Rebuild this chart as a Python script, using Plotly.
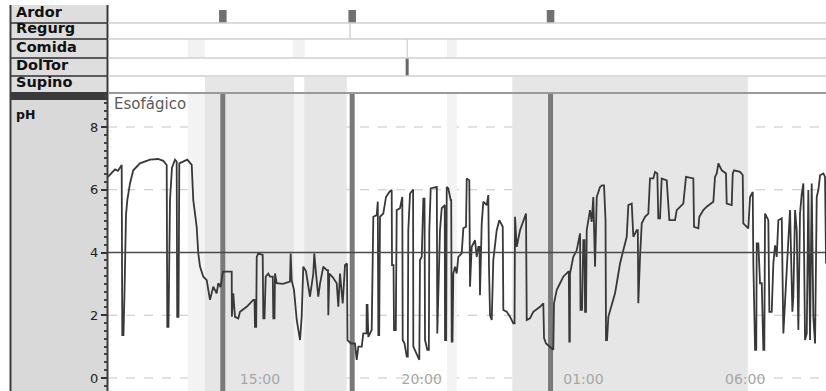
import pandas as pd
import plotly.graph_objects as go

# ---------------- data ----------------
# time in minutes after 10:00 on day 1, pH values
minutes = [
    18, 25.4, 31, 36.5, 43.4, 44.5, 46.7, 48.6, 49.5, 51.4, 53.8, 58.8, 64.9, 77.3, 95.9, 110.7,
    120.6, 126.9, 128.0, 130.2, 133.0, 136.7, 142.3, 145.4, 146.4, 148.8, 150.3, 157.1, 165.1,
    173.3, 176.2, 182.5, 185.5, 188.7, 194.8, 201.1, 203.5, 207.2, 213.3, 219.6, 222.6, 226.7,
    231.3, 247.5, 247.8, 250.4, 253.6, 259.7, 262.9, 275.3, 287.5, 289.8, 290.7, 292.9, 293.9,
    296.8, 305.0, 306.1, 308.3, 310.6, 315.4, 318.5, 323.7, 324.7, 326.9, 327.8, 331.0, 342.6,
    355.6, 356.9, 358.8, 363.1, 368.1, 374.2, 377.3, 380.3, 385.3, 389.6, 392.7, 398.9, 400.7,
    403.9, 408.1, 411.3, 417.4, 423.7, 426.1, 426.7, 428.6, 435.4, 442.3, 445.3, 448.4, 453.4,
    457.7, 461.4, 462.3,
    468.8, 476.2, 479.4, 482.4, 488.7, 491.6, 497.6, 497.9, 499.4, 500.9, 507.2, 508.3, 510.2,
    516.5, 517.6, 518.5, 519.5, 521.1, 522.6, 528.7, 533.7, 539.9, 544.3, 544.9, 547.7, 548.6,
    551.9, 553.6, 559.7, 562.9, 564.0, 564.7, 568.1, 572.2, 574.2, 575.1, 578.3, 583.3, 584.0,
    584.4, 589.4, 595.5, 596.8, 600.0, 603.0, 605.2, 606.1, 610.4, 613.2, 614.1, 616.7, 624.7,
    628.0, 628.9, 630.8, 633.9, 637.1, 641.9, 642.7, 643.2, 645.4, 646.4, 649.3, 653.8, 654.7,
    655.6, 657.1, 658.6, 661.8, 664.9, 667.9, 674.2, 677.2, 682.2, 683.5, 688.3, 689.6, 692.7,
    698.9, 702.0, 705.0, 707.2, 708.1, 711.3, 714.3, 720.6, 723.5, 724.8, 726.7, 729.9, 732.8,
    739.1, 744.0, 750.3, 751.4, 757.7, 763.8, 769.9, 772.2, 773.1, 776.2, 782.4, 788.5, 793.5,
    794.8, 800.9, 807.0, 819.5, 825.6, 826.9, 830.6, 838.0, 844.1, 845.4, 850.4, 856.6, 862.7,
    872.0, 872.9, 873.8, 874.8, 875.1, 881.2, 887.5, 893.7, 894.6, 897.4, 899.8, 902.0, 903.0,
    904.8, 906.1, 912.2, 915.4, 918.3, 921.5, 924.7, 930.8,
    934.5, 938.2, 940.1, 941.0, 941.9, 943.8, 946.2, 952.5, 958.6, 961.8, 967.9, 974.0, 980.3,
    983.3, 989.6, 992.6, 998.9, 1000.9, 1001.8, 1005.0, 1008.2, 1014.3, 1020.4, 1023.5, 1029.7,
    1032.8, 1037.1, 1038.9, 1042.1, 1045.2, 1054.5, 1059.4, 1069.9, 1073.1, 1079.2, 1085.3,
    1090.3, 1103.9, 1105.2, 1113.2, 1115.0, 1122.4, 1128.7, 1136.2, 1141.0, 1144.1, 1147.3,
    1150.3, 1156.6, 1164.5, 1165.8, 1175.1, 1177.0, 1179.4, 1190.5, 1195.5, 1196.6, 1203.0,
    1205.9, 1209.1, 1214.1, 1215.2, 1218.4, 1220.6, 1221.5, 1224.5, 1227.6, 1230.8, 1233.8,
    1235.6, 1236.9, 1243.0, 1244.9, 1249.3, 1252.3, 1255.5, 1258.6, 1261.6, 1267.9, 1270.9,
    1274.0, 1277.2, 1280.1, 1283.3, 1287.6, 1289.4, 1292.6, 1295.7, 1298.7, 1301.8, 1305.0,
    1308.0, 1311.1, 1314.3, 1317.2, 1320.4, 1323.5, 1326.5, 1329.7, 1332.8, 1335.8, 1339.0,
    1345.1, 1348.2, 1350.1,
]
ph = [
    6.41, 6.55, 6.65, 6.6, 6.79, 1.37, 1.37, 2.70, 3.9, 5.2, 5.67, 6.20, 6.62, 6.84, 6.96, 6.98,
    6.92, 6.79, 1.63, 1.63, 5.67, 6.7, 6.96, 6.9, 1.95, 1.95, 6.84, 6.9, 6.96,
    6.79, 5.67, 4.82, 3.97, 3.55, 3.23, 3.12, 2.8, 2.49, 2.91, 2.7, 3.02, 2.9,
    3.39, 3.39, 1.95, 2.70, 1.95, 1.90, 2.11, 2.27, 2.49, 2.49, 1.63, 1.63, 3.86,
    3.97, 3.92, 1.90, 1.90, 3.23, 3.33, 3.23, 3.23, 1.90, 1.90, 3.33, 3.02, 3.0,
    3.07, 3.97, 3.12, 2.8, 1.85, 1.21, 1.95, 3.55, 3.4, 2.91, 2.59, 3.33, 3.97,
    3.33, 2.59, 3.0, 3.55, 3.44, 3.44, 2.0, 3.33, 3.2, 3.02, 2.27, 3.33, 2.38,
    3.60, 3.65, 1.21,
    1.1, 1.1, 0.58, 1.0, 1.0, 1.42, 1.42, 2.33, 2.33, 1.31, 1.53, 3.55, 5.14,
    5.19, 5.62, 5.62, 1.37, 1.37, 5.14, 5.24, 5.77, 5.93, 5.99, 3.60, 3.60, 1.53,
    1.53, 5.35, 5.41, 5.77, 5.77, 1.21, 1.1, 0.68, 0.68, 4.71, 5.88, 5.99, 5.99,
    1.0, 0.8, 0.58, 3.76, 3.86, 5.72, 5.72, 1.21, 0.9, 0.9, 4.71, 6.04, 6.09,
    6.09, 1.42, 2.80, 4.71, 5.41, 5.51, 5.51, 1.21, 1.21, 6.09, 6.04, 5.67, 5.67,
    1.16, 1.16, 3.33, 3.55, 3.33, 3.86, 3.97, 4.77, 4.82, 6.36, 6.30, 2.91, 4.18,
    4.39, 3.86, 4.18, 4.18, 2.64, 4.93, 5.62, 5.51, 5.83, 3.55, 2.0, 1.85, 3.76,
    4.71, 5.03, 4.82, 2.17, 2.11, 1.95, 1.74, 1.74, 5.14, 4.18, 4.71, 5.03, 5.24,
    1.85, 1.9, 2.11, 2.27, 2.38, 1.27, 1.10, 1.0, 0.90, 2.38, 2.80, 3.02, 3.23,
    3.39, 3.39, 1.16, 1.16, 3.33, 3.86, 4.07, 4.61, 2.17, 2.17, 4.39, 4.39, 2.11,
    2.11, 4.71, 5.35, 4.98, 5.77, 3.55, 5.77, 6.09,
    6.14, 6.14, 5.03, 5.03, 1.21, 1.21, 1.95, 2.38, 2.70, 3.02, 3.65, 4.07, 4.50,
    5.51, 5.56, 4.50, 4.71, 4.71, 2.38, 3.86, 4.93, 5.14, 5.24, 6.36, 6.36,
    6.57, 6.52, 5.09, 5.09, 6.36, 6.30, 5.03, 5.03, 5.35, 5.46, 5.56,
    6.41, 6.36, 4.82, 4.77, 5.14, 5.35, 5.46, 5.56, 5.62, 6.41, 6.52,
    6.84, 6.62, 6.52, 5.56, 5.51, 6.52, 6.62, 6.57, 6.47, 4.93, 4.82,
    4.77, 5.77, 5.93, 3.65, 0.90, 0.90, 4.29, 4.29, 3.02, 3.02, 0.90,
    0.90, 5.24, 5.03, 2.11, 2.11, 3.65, 4.23, 3.86, 5.03, 5.09, 1.42,
    2.59, 3.65, 4.39, 5.35, 2.11, 2.59, 5.35, 4.71, 1.53, 5.24, 5.88,
    6.20, 1.21, 1.42, 5.99, 1.21, 6.20, 1.95, 1.10, 5.77, 5.99, 6.46,
    6.52, 6.41, 3.65,
]

row_labels = ["Ardor", "Regurg", "Comida", "DolTor", "Supino"]
ardor_events = [231, 471, 839]          # minutes after 10:00
regurg_events = [467]
doltor_events = [573]
comida_periods = [(166, 198), (361, 383), (647, 665)]
supine_periods = [(198, 363), (382, 461), (768, 1205)]
tick_labels = ["15:00", "20:00", "01:00", "06:00"]
y_ticks = [0, 2, 4, 6, 8]
ph_threshold = 4
x_window = (18, 1350)

# ---------------- helpers ----------------
W, H = 826, 391
base = pd.Timestamp("2024-01-01 10:00")


def t(m):
    return (base + pd.Timedelta(minutes=float(m))).strftime("%Y-%m-%d %H:%M:%S")


def py(ypx):
    return 1 - ypx / H


def px(xpx):
    return xpx / W


def tick_time(lbl):
    hh, mm = map(int, lbl.split(":"))
    d = base.normalize() + pd.Timedelta(hours=hh, minutes=mm)
    if d < base:
        d += pd.Timedelta(days=1)
    return d.strftime("%Y-%m-%d %H:%M:%S")


X0_PX = 108
PANEL_TOP = 93
rows_px = [(5, 23), (23, 39), (39, 58), (58, 76), (76, 93)]

fig = go.Figure()
fig.add_trace(go.Scatter(
    x=[t(m) for m in minutes], y=ph, mode="lines",
    line=dict(color="#383838", width=1.8), hoverinfo="skip", showlegend=False,
))

shapes = []
# ---- left label panel (below so axis tick labels stay visible) ----
shapes.append(dict(type="rect", xref="paper", yref="paper", x0=px(10), x1=px(X0_PX),
                   y0=0, y1=py(5), fillcolor="#d9d9d9", line_width=0, layer="below"))
for (a, b) in rows_px:
    shapes.append(dict(type="rect", xref="paper", yref="paper", x0=px(11), x1=px(X0_PX - 1),
                       y0=py(b), y1=py(a), fillcolor="#dedede", line_width=0, layer="below"))
for ypx_ in [23, 39, 58, 76]:
    shapes.append(dict(type="line", xref="paper", yref="paper", x0=px(10), x1=px(X0_PX),
                       y0=py(ypx_), y1=py(ypx_), line=dict(color="#2e2e2e", width=1.6),
                       layer="below"))
shapes.append(dict(type="rect", xref="paper", yref="paper", x0=px(10), x1=px(X0_PX),
                   y0=py(100), y1=py(92), fillcolor="#3a3a3a", line_width=0, layer="below"))
shapes.append(dict(type="line", xref="paper", yref="paper", x0=px(10.5), x1=px(10.5),
                   y0=0, y1=py(5), line=dict(color="#3c3c3c", width=2), layer="below"))

# dashed grid lines (drawn first so that the shaded bands cover them)
for v in y_ticks:
    if v == ph_threshold:
        continue
    shapes.append(dict(type="line", xref="paper", yref="y", x0=px(X0_PX), x1=1, y0=v, y1=v,
                       line=dict(color="#c4c4c4", width=1, dash="dash"), layer="below"))
# meal bands (very light) and supine shading in the pH panel
for a, b in comida_periods:
    shapes.append(dict(type="rect", xref="x", yref="y domain", x0=t(a), x1=t(b), y0=0, y1=1,
                       fillcolor="#f3f3f3", line_width=0, layer="below"))
for a, b in supine_periods:
    shapes.append(dict(type="rect", xref="x", yref="y domain", x0=t(a), x1=t(b), y0=0, y1=1,
                       fillcolor="#e6e6e6", line_width=0, layer="below"))
# Ardor event lines in pH panel
for m in ardor_events:
    shapes.append(dict(type="line", xref="x", yref="y domain", x0=t(m), x1=t(m), y0=0, y1=1,
                       line=dict(color="#7a7a7a", width=5), layer="below"))
# threshold
shapes.append(dict(type="line", xref="paper", yref="y", x0=px(X0_PX), x1=1, y0=ph_threshold,
                   y1=ph_threshold, line=dict(color="#4a4a4a", width=1.6), layer="above"))
# right border of label panel / axis line
shapes.append(dict(type="line", xref="paper", yref="paper", x0=px(X0_PX - 0.5), x1=px(X0_PX - 0.5),
                   y0=0, y1=py(5), line=dict(color="#3c3c3c", width=2), layer="above"))

# ---- top event rows ----
comida_row = rows_px[2]
supino_row = rows_px[4]
for a, b in comida_periods:
    shapes.append(dict(type="rect", xref="x", yref="paper", x0=t(a), x1=t(b),
                       y0=py(comida_row[1]), y1=py(comida_row[0]),
                       fillcolor="#f2f2f2", line_width=0))
for a, b in supine_periods:
    shapes.append(dict(type="rect", xref="x", yref="paper", x0=t(a), x1=t(b),
                       y0=py(supino_row[1]), y1=py(supino_row[0] + 1),
                       fillcolor="#e6e6e6", line_width=0))
for m in ardor_events:
    shapes.append(dict(type="rect", xref="x", yref="paper", x0=t(m - 7), x1=t(m + 7),
                       y0=py(23), y1=py(10), fillcolor="#707070", line_width=0))
for m in regurg_events:
    shapes.append(dict(type="line", xref="x", yref="paper", x0=t(m), x1=t(m),
                       y0=py(39), y1=py(23), line=dict(color="#bbbbbb", width=1)))
for m in doltor_events:
    shapes.append(dict(type="line", xref="x", yref="paper", x0=t(m), x1=t(m),
                       y0=py(58), y1=py(39), line=dict(color="#c4c4c4", width=1)))
    shapes.append(dict(type="line", xref="x", yref="paper", x0=t(m), x1=t(m),
                       y0=py(76), y1=py(58), line=dict(color="#666666", width=3)))
# row separators in plot area
for ypx_ in [23, 39, 58, 76]:
    shapes.append(dict(type="line", xref="paper", yref="paper", x0=px(X0_PX), x1=1,
                       y0=py(ypx_), y1=py(ypx_), line=dict(color="#cfcfcf", width=1.5)))
shapes.append(dict(type="line", xref="paper", yref="paper", x0=px(X0_PX), x1=1,
                   y0=py(PANEL_TOP), y1=py(PANEL_TOP), line=dict(color="#9a9a9a", width=2)))

annotations = []
for lbl, (a, b) in zip(row_labels, rows_px):
    annotations.append(dict(text=f"<b>{lbl}</b>", xref="paper", yref="paper", x=px(14),
                            y=py(b - 1), xanchor="left", yanchor="bottom", showarrow=False,
                            font=dict(family="DejaVu Sans", size=14.5, color="#111111")))
annotations.append(dict(text="<b>pH</b>", xref="paper", yref="paper", x=px(14), y=py(114),
                        xanchor="left", yanchor="middle", showarrow=False,
                        font=dict(family="DejaVu Sans", size=12.5, color="#111111")))
annotations.append(dict(text="Esofágico", xref="paper", yref="paper", x=px(112), y=py(104),
                        xanchor="left", yanchor="middle", showarrow=False,
                        font=dict(family="DejaVu Sans", size=15, color="#5a5a5a")))

# y range so that pH 0 -> 378px and pH 8 -> 127px
y_scale = (378 - 127) / 8.0
y_lo = -(H - 378) / y_scale
y_hi = 8 + (127 - PANEL_TOP) / y_scale

fig.update_layout(
    width=W, height=H, template="none",
    margin=dict(l=0, r=0, t=0, b=0),
    paper_bgcolor="white", plot_bgcolor="rgba(0,0,0,0)",
    showlegend=False,
    shapes=shapes, annotations=annotations,
    xaxis=dict(
        type="date", domain=[px(X0_PX), 1], range=[t(x_window[0]), t(x_window[1])],
        tickvals=[tick_time(l) for l in tick_labels], ticktext=tick_labels,
        ticklabelposition="outside", ticklabelstandoff=-22, ticks="", showgrid=False,
        zeroline=False, showline=False, automargin=False,
        tickfont=dict(family="DejaVu Sans", size=14, color="#a6a6a6"),
    ),
    yaxis=dict(
        domain=[0, py(PANEL_TOP)], range=[y_lo, y_hi], tickvals=y_ticks,
        ticks="outside", ticklen=6, tickwidth=1.5, tickcolor="#333333",
        minor=dict(dtick=0.25, ticks="outside", ticklen=3, tickcolor="#444444", showgrid=False),
        showgrid=False, zeroline=False, showline=False, automargin=False,
        tickfont=dict(family="DejaVu Sans", size=13, color="#222222"),
    ),
)

fig.write_html(
    "out.html",
    config={"displayModeBar": False},
    post_script="document.body.style.margin='0';document.body.style.overflow='hidden';",
)
